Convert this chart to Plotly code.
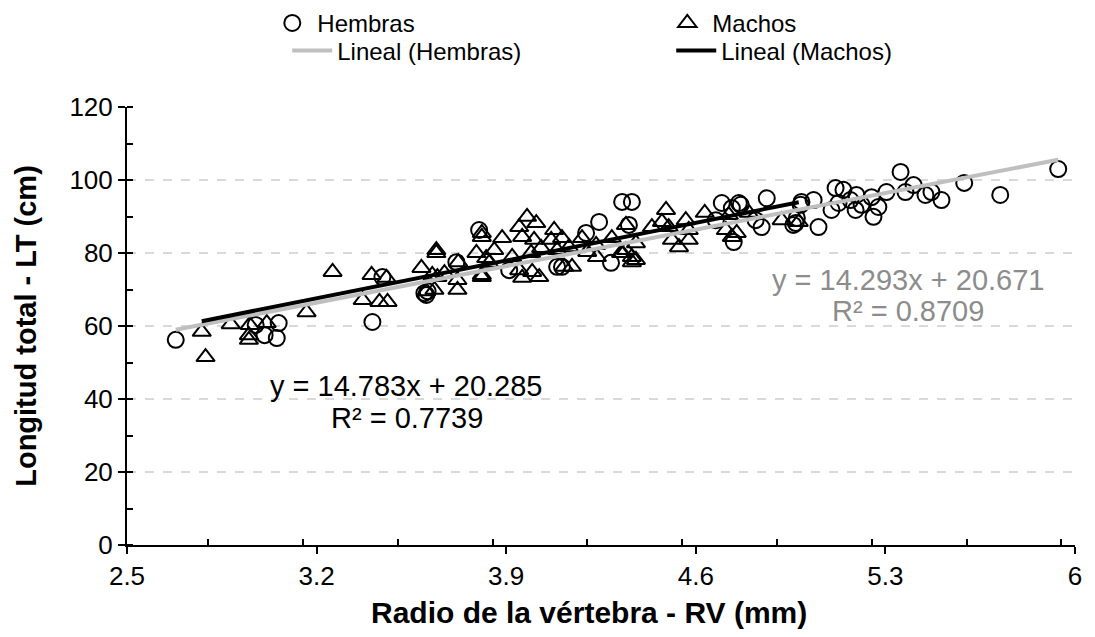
import numpy as np
import plotly.graph_objects as go

# Hembras (circles): radio vertebra (mm), longitud total (cm)
hembras_rv = [2.68, 2.975, 3.008, 3.06, 3.053, 3.443, 3.406, 3.598, 3.605, 3.61,
              3.716, 3.80, 3.911, 4.106, 4.195, 4.243, 4.287, 4.328, 4.364, 4.353,
              4.674, 4.696, 4.733, 4.759, 4.74, 4.843, 4.862, 4.821, 4.766, 4.969,
              4.987, 5.035, 5.053, 4.973, 5.116, 5.145, 5.127, 5.101, 5.171, 5.193,
              5.212, 5.19, 5.249, 5.256, 5.274, 5.304, 5.356, 5.374, 5.404, 5.448,
              5.47, 5.507, 5.591, 5.724, 5.938, 4.96, 4.99, 4.088]
hembras_lt = [56.2, 60.3, 57.5, 60.8, 56.7, 73.4, 61.1, 69.0, 68.5, 69.5,
              77.5, 86.3, 75.3, 76.2, 85.5, 88.5, 77.3, 94.0, 94.0, 87.7,
              89.0, 93.7, 92.3, 93.7, 83.0, 87.1, 95.0, 89.0, 93.2, 88.2,
              93.2, 94.5, 87.1, 89.6, 97.8, 97.3, 93.7, 91.8, 94.5, 95.9,
              93.2, 91.8, 95.3, 89.9, 92.6, 96.7, 102.2, 96.7, 98.6, 95.9,
              96.7, 94.5, 99.2, 95.9, 103.0, 87.7, 94.0, 76.2]

# Machos (triangles)
machos_rv = [2.776, 2.79, 2.883, 2.95, 2.95, 2.953, 3.016, 3.163, 3.259, 3.403,
             3.458, 3.37, 3.432, 3.462, 3.587, 3.642, 3.642, 3.605, 3.635, 3.627,
             3.672, 3.646, 3.72, 3.723, 3.72, 3.81, 3.79, 3.826, 3.81, 3.81,
             3.856, 3.885, 3.837, 3.81, 3.977, 3.948, 4.011, 3.959, 4.003, 4.029,
             3.992, 3.922, 3.948, 3.996, 3.959, 4.022, 4.077, 4.066, 4.106, 4.088,
             4.132, 4.114, 4.143, 4.18, 4.199, 4.235, 4.232, 4.29, 4.342, 4.364,
             4.379, 4.324, 4.342, 4.364, 4.49, 4.438, 4.475, 4.5, 4.512, 4.563,
             4.574, 4.538, 4.574, 4.379, 4.328, 4.633, 4.711, 4.733, 4.751, 4.722,
             4.796, 4.917, 4.98]
machos_lt = [58.4, 51.5, 60.5, 57.5, 56.2, 60.3, 60.8, 63.8, 74.8, 74.0,
             73.2, 67.1, 66.6, 66.6, 75.9, 80.8, 80.0, 69.5, 69.9, 74.0,
             74.5, 73.4, 69.9, 77.5, 72.6, 85.5, 80.0, 78.6, 74.0, 84.4,
             80.8, 84.1, 77.3, 73.4, 89.9, 87.1, 88.2, 84.4, 83.6, 81.4,
             80.0, 78.9, 75.3, 74.8, 73.2, 73.4, 86.3, 83.6, 84.1, 80.8,
             81.6, 76.2, 76.2, 84.1, 80.3, 78.9, 82.2, 84.1, 80.8, 78.9,
             82.7, 80.0, 87.7, 77.5, 91.8, 87.1, 88.5, 87.1, 83.6, 89.0,
             86.3, 81.6, 83.6, 78.1, 80.0, 91.0, 86.3, 84.4, 85.5, 90.4,
             91.0, 89.0, 88.5]

# trend line coefficients (from the chart labels)
h_slope, h_int, h_r2 = 14.293, 20.671, 0.8709
m_slope, m_int, m_r2 = 14.783, 20.285, 0.7739

FONT = "Liberation Sans, Arial, sans-serif"
GRAY = "#bfbfbf"

h_x = np.array([min(hembras_rv), max(hembras_rv)])
m_x = np.array([min(machos_rv), max(machos_rv)])

fig = go.Figure()

# markers go in the first legend row, trend lines in the second
fig.add_trace(go.Scatter(
    x=hembras_rv, y=hembras_lt, mode="markers", name="Hembras", legend="legend",
    marker=dict(symbol="circle-open", size=16, color="black", line=dict(width=2))))
fig.add_trace(go.Scatter(
    x=machos_rv, y=machos_lt, mode="markers", name="Machos", legend="legend",
    marker=dict(symbol="triangle-up-open", size=16, color="black", line=dict(width=2))))
fig.add_trace(go.Scatter(
    x=h_x, y=h_slope * h_x + h_int, mode="lines", name="Lineal (Hembras)", legend="legend2",
    line=dict(color=GRAY, width=4)))
fig.add_trace(go.Scatter(
    x=m_x, y=m_slope * m_x + m_int, mode="lines", name="Lineal (Machos)", legend="legend2",
    line=dict(color="black", width=4)))

# equation labels
fig.add_annotation(x=5.385, y=72.6, text="y = %.3fx + %.3f" % (h_slope, h_int),
                   showarrow=False, font=dict(size=29, color="#8c8c8c", family=FONT))
fig.add_annotation(x=5.385, y=64.1, text="R² = %.4f" % h_r2,
                   showarrow=False, font=dict(size=29, color="#8c8c8c", family=FONT))
fig.add_annotation(x=3.532, y=43.6, text="y = %.3fx + %.3f" % (m_slope, m_int),
                   showarrow=False, font=dict(size=29, color="black", family=FONT))
fig.add_annotation(x=3.532, y=34.8, text="R² = %.4f" % m_r2,
                   showarrow=False, font=dict(size=29, color="black", family=FONT))

# x title sits a little left of centre in the original
fig.add_annotation(xref="paper", yref="paper", x=0.487, y=-0.153, yanchor="middle",
                   text="<b>Radio de la vértebra - RV (mm)</b>", showarrow=False,
                   font=dict(size=30, color="black", family=FONT))

leg = dict(orientation="h", xanchor="left", yanchor="middle",
           entrywidthmode="pixels", font=dict(size=24), traceorder="normal",
           itemwidth=40, bgcolor="rgba(0,0,0,0)")

fig.update_layout(
    width=1087, height=629,
    margin=dict(l=119, r=20, t=99, b=92, autoexpand=False),
    paper_bgcolor="white", plot_bgcolor="white",
    font=dict(family=FONT, size=26, color="black"),
    legend=dict(leg, x=0.148, y=1.191, entrywidth=340),
    legend2=dict(leg, x=0.169, y=1.128, entrywidth=329),
)

fig.update_xaxes(
    range=[2.5, 6], tick0=2.5, dtick=0.7,
    showline=True, linecolor="black", linewidth=2,
    ticks="outside", ticklen=7, tickwidth=2, tickcolor="black",
    minor=dict(ticks="inside", ticklen=6, tickwidth=2, tickcolor="black", dtick=0.35),
    showgrid=False, zeroline=False,
)
fig.update_yaxes(
    range=[0, 120], dtick=20,
    showline=True, linecolor="black", linewidth=2,
    ticks="outside", ticklen=7, tickwidth=2, tickcolor="black",
    minor=dict(ticks="inside", ticklen=6, tickwidth=2, tickcolor="black", dtick=10),
    showgrid=True, gridcolor="#d9d9d9", gridwidth=1.5, griddash="dash",
    zeroline=False,
    title=dict(text="<b>Longitud total - LT (cm)</b>", font=dict(size=29), standoff=24),
)

fig.write_html("out.html")
